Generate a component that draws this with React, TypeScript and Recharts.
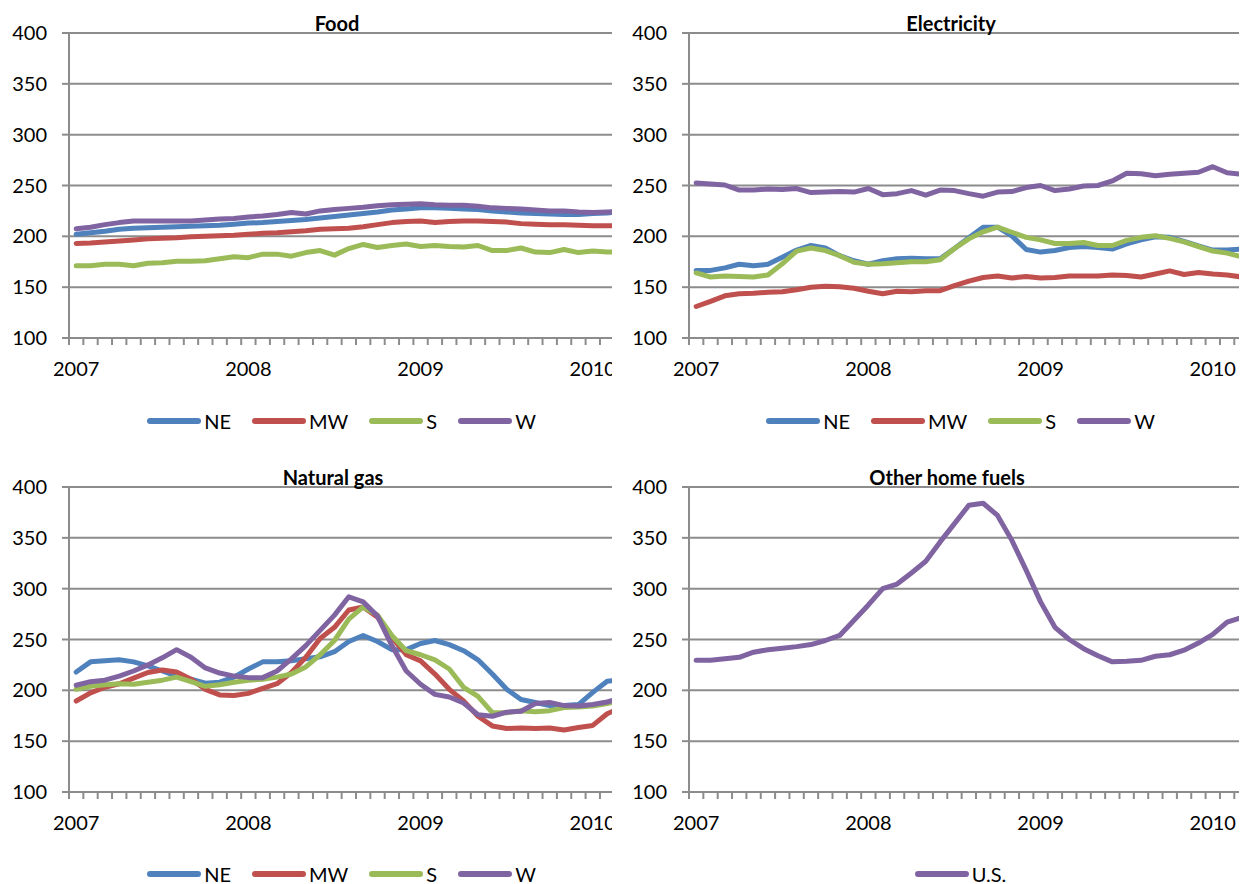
import React from 'react';
import { LineChart, Line, XAxis, YAxis, CartesianGrid, Legend } from 'recharts';

// tick labels
const years = ['2007', '2008', '2009', '2010'];
const yTicks = [100, 150, 200, 250, 300, 350, 400];
const legendOrder = ['NE', 'MW', 'S', 'W', 'U.S.'];

// monthly index values, Jan 2007 - Mar 2010
const foodNE = [202, 203.5, 205, 207, 208, 208.5, 209, 209.5, 210, 210.5, 211, 212, 213, 213.5, 214.5, 215.5, 216.5, 218, 219.5, 221, 222.5, 224, 226, 227, 228, 228, 227.5, 227, 226.5, 225, 224, 223, 222.5, 222, 221.5, 221.5, 222.5, 223, 224];
const foodMW = [193, 193.5, 194.5, 195.5, 196.5, 197.5, 198, 198.5, 199.5, 200, 200.5, 201, 202, 203, 203.5, 204.5, 205.5, 207, 207.5, 208, 209.5, 211.5, 213.5, 214.5, 215, 213.5, 214.5, 215, 215, 214.5, 214, 212.5, 212, 211.5, 211.5, 211, 210.5, 210.5, 210];
const foodS = [171, 171, 172.5, 172.5, 171, 173.5, 174, 175.5, 175.5, 176, 178, 180, 179, 182.5, 182.5, 180.5, 184, 186, 181.5, 188, 192, 189, 191, 192.5, 190, 191, 190, 189.5, 191, 186, 186, 188.5, 184.5, 184, 187, 184, 185.5, 184.5, 184.5];
const foodW = [207.5, 209, 211.5, 213.5, 215, 215, 215, 215, 215, 216, 217, 217.5, 219, 220, 221.5, 223.5, 222, 225, 226.5, 227.5, 228.5, 230, 231, 231.5, 232, 231, 230.5, 230.5, 229.5, 228, 227.5, 227, 226, 225, 225, 224, 223.5, 224, 224.5];

const elecNE = [166.5, 166.5, 169, 172.5, 171, 172.5, 179.5, 186.5, 191, 188.5, 181, 176, 172.5, 176, 178, 178.5, 178, 178, 188, 198.5, 209, 209, 200.5, 187, 184.5, 186, 189, 190, 189, 187.5, 192.5, 196.5, 199.5, 199, 195, 190.5, 186.5, 186.5, 187.5];
const elecMW = [131, 136, 141.5, 143.5, 144, 145, 145.5, 147.5, 150, 151, 150.5, 149, 146, 143.5, 146, 145.5, 146.5, 146.5, 151.5, 156, 159.5, 161, 159, 160.5, 159, 159.5, 161, 161, 161, 162, 161.5, 160, 163, 166, 162.5, 164.5, 163, 162, 160];
const elecS = [164, 160, 161, 160.5, 160, 162, 173, 185.5, 188.5, 186, 181, 174.5, 172.5, 173, 174, 175, 175, 177, 188, 197.5, 204.5, 209, 204, 199, 196.5, 193, 193, 194, 191, 191, 196, 199, 200.5, 198, 194.5, 190, 185.5, 183.5, 180];
const elecW = [252.5, 251.5, 250.5, 245.5, 245.5, 246.5, 246, 247, 243, 243.5, 244, 243.5, 247, 241, 242, 245, 240.5, 245.5, 245, 242, 239.5, 243.5, 244, 248, 250, 245, 246.5, 249.5, 250, 254.5, 262, 261.5, 259.5, 261, 262, 263, 268.5, 262.5, 261];

const gasNE = [218, 228, 229, 230, 228, 224, 219, 214, 211, 207, 208, 213, 221, 228, 228, 229, 231, 233, 238, 248, 254, 248, 240, 240, 246, 249, 245, 239, 230, 216, 201, 191, 188, 185, 185, 186, 198, 209, 210];
const gasMW = [189.5, 197.5, 203, 206.5, 212, 217.5, 220, 218, 211, 201, 195.5, 195, 197, 202, 206.5, 217.5, 232.5, 251, 262, 279, 282, 272, 252, 235, 229, 216, 201, 189.5, 174.5, 165, 162.5, 163, 162.5, 163, 161, 163.5, 165.5, 177, 183];
const gasS = [201, 204, 205.5, 206.5, 206, 208, 210, 213, 208.5, 204, 205.5, 208, 210, 211, 213, 216, 223, 235, 249, 270, 282, 274, 254, 239, 235, 230, 221, 203, 194, 178, 178, 180, 179, 180, 183, 183.5, 184.5, 187, 190];
const gasW = [205, 208.5, 210, 214, 219, 225, 232, 240, 232.5, 222, 217, 214, 212.5, 212.5, 219, 231, 244, 259, 274, 292, 287, 273, 244, 219, 206, 196, 193.5, 187.5, 176, 174.5, 178.5, 179.5, 187, 188, 185, 184.5, 186, 188.5, 192.5];

const otherUS = [229.5, 229.5, 231, 232.5, 237.5, 240, 241.5, 243, 245, 249, 254, 269, 284, 300, 304.5, 315.5, 327, 346, 364, 382, 384, 372, 347.5, 318, 287, 262, 250, 241, 234, 228, 228.5, 229.5, 233.5, 235, 239.5, 246.5, 255, 267, 271.5];

const BLUE = '#4F81BD';
const RED = '#C0504D';
const GREEN = '#9BBB59';
const PURPLE = '#8064A2';
const GRID = '#8C8C8C';

const MONTHS = 39;
const CHART_W = 672;
const PLOT_L = 69;
const MONTH_PX = 14.35;
const PLOT_R = PLOT_L + MONTHS * MONTH_PX;
const PLOT_H = 305;
const X_AXIS_H = 40;
const LEGEND_H = 20;

const monthTicks = Array.from({ length: MONTHS + 1 }, (_, i) => i);

type Series = { key: string; name: string; color: string; values: number[] };

const toRows = (series: Series[]) =>
  series[0].values.map((_, i) => {
    const row: Record<string, number> = { m: i + 0.5 };
    series.forEach(s => {
      row[s.key] = s.values[i];
    });
    return row;
  });

const YearTick = ({ x, y, payload }: any) => {
  const v = payload.value;
  if (v % 12 !== 0 || v >= MONTHS) return <g />;
  return (
    <text x={x + MONTH_PX / 2} y={y + 29} textAnchor="middle" fontSize={20} fill="#000">
      {years[v / 12]}
    </text>
  );
};

const renderLegend = (props: any) => {
  const items = [...(props.payload || [])].sort(
    (a: any, b: any) => legendOrder.indexOf(a.value) - legendOrder.indexOf(b.value)
  );
  return (
    <div style={{ display: 'flex', justifyContent: 'center', alignItems: 'center', height: LEGEND_H, lineHeight: `${LEGEND_H}px`, fontSize: 20, color: '#000' }}>
      {items.map((p: any, i: number) => (
        <div key={p.value} style={{ display: 'flex', alignItems: 'center', marginLeft: i ? 20 : 0 }}>
          <svg width={56} height={10}>
            <line x1={4} y1={5} x2={52} y2={5} stroke={p.color} strokeWidth={6} strokeLinecap="round" />
          </svg>
          <span style={{ marginLeft: 2 }}>{p.value}</span>
        </div>
      ))}
    </div>
  );
};

type PanelProps = {
  left: number;
  top: number;
  clipW: number;
  height: number;
  plotTop: number;
  legendX: number;
  legendY: number;
  title: string;
  titleX: number;
  series: Series[];
};

const Panel = ({ left, top, clipW, height, plotTop, legendX, legendY, title, titleX, series }: PanelProps) => {
  const plotBottom = plotTop + PLOT_H;
  const axisStyle = { stroke: GRID, strokeWidth: 2 };
  return (
    <div style={{ position: 'absolute', left, top, width: clipW, height, overflow: 'hidden' }}>
      <LineChart
        width={CHART_W}
        height={height}
        data={toRows(series)}
        margin={{ top: plotTop, right: CHART_W - PLOT_R, bottom: height - plotBottom - X_AXIS_H, left: 0 }}
      >
        <CartesianGrid vertical={false} stroke={GRID} strokeWidth={2} />
        <XAxis
          dataKey="m"
          type="number"
          domain={[0, MONTHS]}
          ticks={monthTicks}
          interval={0}
          height={X_AXIS_H}
          tickSize={7}
          tickMargin={2}
          axisLine={axisStyle}
          tickLine={axisStyle}
          tick={(p: any) => <YearTick {...p} />}
        />
        <YAxis
          type="number"
          domain={[100, 400]}
          ticks={yTicks}
          interval={0}
          width={PLOT_L}
          tickSize={7}
          tickMargin={15}
          axisLine={axisStyle}
          tickLine={axisStyle}
          tick={{ fill: '#000', fontSize: 20 }}
        />
        <Legend
          layout="horizontal"
          verticalAlign="middle"
          align="center"
          itemSorter={(item: any) => legendOrder.indexOf(item.value)}
          wrapperStyle={{ top: legendY - LEGEND_H / 2, left: legendX - 250, width: 500, height: LEGEND_H }}
          content={renderLegend}
        />
        {series.map(s => (
          <Line
            key={s.key}
            type="linear"
            dataKey={s.key}
            name={s.name}
            stroke={s.color}
            strokeWidth={5}
            strokeLinecap="round"
            strokeLinejoin="round"
            dot={false}
            activeDot={false}
            isAnimationActive={false}
          />
        ))}
      </LineChart>
      <svg style={{ position: 'absolute', left: 0, top: 0, pointerEvents: 'none' }} width={clipW} height={height}>
        <text x={titleX} y={plotTop - 2} textAnchor="middle" fontWeight="bold" fontSize={20} fill="#000">
          {title}
        </text>
      </svg>
    </div>
  );
};

const regional = (ne: number[], mw: number[], s: number[], w: number[]): Series[] => [
  { key: 'NE', name: 'NE', color: BLUE, values: ne },
  { key: 'MW', name: 'MW', color: RED, values: mw },
  { key: 'S', name: 'S', color: GREEN, values: s },
  { key: 'W', name: 'W', color: PURPLE, values: w },
];

export default function App() {
  return (
    <div
      style={{
        position: 'absolute',
        left: 0,
        top: 0,
        width: 1246,
        height: 884,
        background: '#fff',
        fontFamily: 'Lato, sans-serif',
      }}
    >
      <Panel left={0} top={0} clipW={612} height={440} plotTop={33} legendX={341} legendY={420.5}
        title="Food" titleX={337} series={regional(foodNE, foodMW, foodS, foodW)} />
      <Panel left={620} top={0} clipW={619} height={440} plotTop={33} legendX={340} legendY={420.5}
        title="Electricity" titleX={331} series={regional(elecNE, elecMW, elecS, elecW)} />
      <Panel left={0} top={440} clipW={612} height={444} plotTop={47} legendX={341} legendY={433.5}
        title="Natural gas" titleX={333} series={regional(gasNE, gasMW, gasS, gasW)} />
      <Panel left={620} top={440} clipW={619} height={444} plotTop={47} legendX={340} legendY={433.5}
        title="Other home fuels" titleX={327}
        series={[{ key: 'US', name: 'U.S.', color: PURPLE, values: otherUS }]} />
    </div>
  );
}
